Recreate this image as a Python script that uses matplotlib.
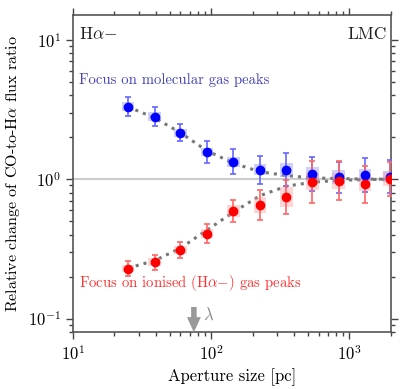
import numpy as np
import matplotlib
matplotlib.use("Agg")
import matplotlib.pyplot as plt

plt.rcParams['font.family'] = 'cmr10'
plt.rcParams['mathtext.fontset'] = 'cm'
plt.rcParams['axes.formatter.use_mathtext'] = True

# aperture sizes [pc]
aperture = [25, 39, 60, 93, 145, 225, 350, 540, 835, 1290, 1950]

# focus on molecular gas peaks
mol_ratio = [3.31, 2.81, 2.15, 1.56, 1.33, 1.17, 1.17, 1.09, 1.03, 1.07, 1.04]
mol_err = [0.07, 0.07, 0.06, 0.08, 0.09, 0.10, 0.12, 0.12, 0.11, 0.12, 0.12]  # dex
mol_box = [0.03, 0.03, 0.03, 0.03, 0.035, 0.04, 0.05, 0.05, 0.05, 0.04, 0.04]

# focus on ionised gas peaks
ion_ratio = [0.228, 0.253, 0.31, 0.407, 0.59, 0.653, 0.746, 0.957, 0.97, 0.916, 1.0]
ion_err = [0.055, 0.055, 0.06, 0.07, 0.08, 0.11, 0.12, 0.15, 0.14, 0.13, 0.12]
ion_box = [0.025, 0.03, 0.03, 0.035, 0.045, 0.06, 0.07, 0.06, 0.06, 0.05, 0.05]

# model curves
model_x = [25, 39, 60, 93, 145, 225, 350, 540, 835, 1290, 2000]
model_mol = [3.3, 2.75, 2.15, 1.6, 1.3, 1.13, 1.06, 1.02, 1.01, 1.0, 1.0]
model_ion = [0.23, 0.26, 0.32, 0.43, 0.58, 0.76, 0.89, 0.95, 0.98, 0.99, 1.0]

lambda_pc = 75

fig = plt.figure(figsize=(4.07, 3.89), dpi=100)
ax = fig.add_axes([0.179, 0.1465, 0.782, 0.8145])

ax.axhline(1.0, color='#cccccc', lw=1.5, zorder=0)

ax.plot(model_x, model_mol, ls=':', color='#777777', lw=2.2, zorder=1)
ax.plot(model_x, model_ion, ls=':', color='#777777', lw=2.2, zorder=1)

def draw(x, y, e, b, col, ecol, bcol):
    x = np.array(x); y = np.array(y)
    lo = y - y * 10 ** (-np.array(e))
    hi = y * 10 ** np.array(e) - y
    ax.errorbar(x, y, yerr=[lo, hi], fmt='none', ecolor=ecol, elinewidth=1.2,
                capsize=2.5, capthick=1.2, zorder=3)
    for xi, yi, bi in zip(x, y, b):
        ax.fill_between([xi / 10 ** 0.045, xi * 10 ** 0.045],
                        yi / 10 ** bi, yi * 10 ** bi, color=bcol, alpha=0.35,
                        lw=0, zorder=2)
    ax.plot(x, y, 'o', color=col, ms=6, zorder=4)

draw(aperture, mol_ratio, mol_err, mol_box, '#0000ff', '#6666ff', '#7777ff')
draw(aperture, ion_ratio, ion_err, ion_box, '#ff0000', '#ff6666', '#ff8888')

ax.set_xscale('log')
ax.set_yscale('log')
ax.set_xlim(10, 2000)
ax.set_ylim(0.08, 15)

ax.annotate('', xy=(lambda_pc, 0.0795), xytext=(lambda_pc, 0.121),
            annotation_clip=False,
            arrowprops=dict(arrowstyle='simple,head_width=0.5,head_length=0.55,tail_width=0.2',
                            mutation_scale=20, color='#999999', lw=0, shrinkA=0, shrinkB=0))
ax.text(lambda_pc * 1.16, 0.107, r'$\lambda$', color='#888888', fontsize=12,
        va='center', ha='left')

ax.text(0.02, 0.94, r'H$\alpha{-}$', transform=ax.transAxes, fontsize=12.5,
        va='center', ha='left', color='#222222')
ax.text(0.985, 0.94, 'LMC', transform=ax.transAxes, fontsize=12.5,
        va='center', ha='right', color='#222222')
ax.text(0.02, 0.795, 'Focus on molecular gas peaks', transform=ax.transAxes,
        fontsize=10.6, color='#4444bb', va='center', ha='left')
ax.text(0.02, 0.155, r'Focus on ionised (H$\alpha{-}$) gas peaks',
        transform=ax.transAxes, fontsize=10.6, color='#ff3333', va='center', ha='left')

ax.set_xlabel('Aperture size [pc]', fontsize=12)
ax.set_ylabel(r'Relative change of CO-to-H$\alpha$ flux ratio', fontsize=11.5)

ax.tick_params(which='both', direction='out', top=True, right=True,
               color='#444444', labelsize=12)
ax.tick_params(which='major', length=5, width=1)
ax.tick_params(which='minor', length=3, width=1)
for s in ax.spines.values():
    s.set_color('#555555')
    s.set_linewidth(1.2)

plt.savefig('out.png', dpi=100)
